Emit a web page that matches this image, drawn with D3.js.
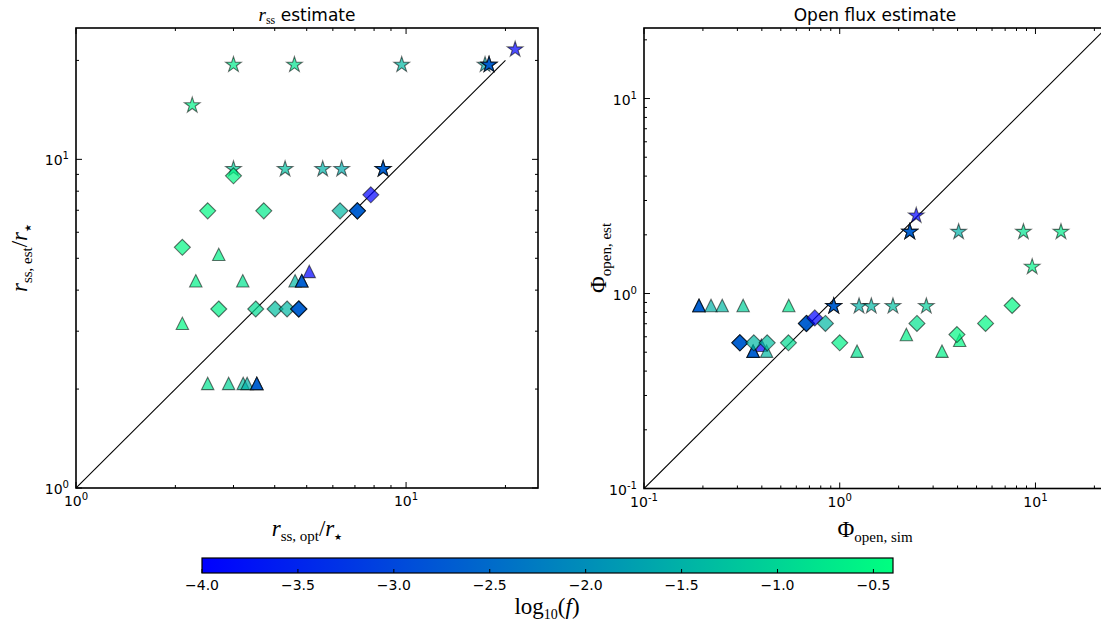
<!DOCTYPE html>
<html><head><meta charset="utf-8">
<script src="https://cdn.jsdelivr.net/npm/d3@7"></script>
<style>body{margin:0;background:#fff}svg{display:block}</style>
</head><body><svg id="c" width="1101" height="628"></svg>
<script>
// ---------- data: [x, y, log10(f)] ----------
const rssStars = [
  [3.0,19.4,-0.7],[4.59,19.4,-0.8],[9.70,19.4,-1.4],[17.35,19.4,-1.6],
  [17.84,19.4,-3.5],[17.84,19.4,-3.0],[17.84,19.4,-2.5],[21.4,21.6,-4.0],
  [2.25,14.6,-0.6],[3.0,9.34,-1.1],[4.30,9.34,-1.3],[5.59,9.34,-1.5],[6.38,9.34,-1.6],
  [8.52,9.34,-3.5],[8.52,9.34,-3.0],[8.52,9.34,-2.5]
];
const rssDiamonds = [
  [3.0,8.91,-0.5],[2.506,6.97,-0.5],[3.706,6.97,-0.7],[6.31,6.97,-1.4],
  [7.12,6.97,-3.5],[7.12,6.97,-3.0],[7.12,6.97,-2.5],[7.82,7.80,-4.0],
  [2.10,5.40,-0.5],[2.707,3.505,-0.6],[3.504,3.505,-0.9],[4.01,3.505,-1.3],[4.36,3.505,-1.4],
  [4.73,3.505,-3.5],[4.73,3.505,-3.0],[4.73,3.505,-2.5]
];
const rssTriangles = [
  [2.707,5.14,-0.6],[2.306,4.27,-0.6],[3.20,4.27,-0.8],[4.61,4.27,-1.4],
  [4.83,4.27,-3.5],[4.83,4.27,-3.0],[4.83,4.27,-2.5],[5.09,4.56,-4.0],
  [2.10,3.17,-0.5],[2.506,2.08,-0.8],[2.90,2.08,-1.0],[3.21,2.08,-1.3],[3.30,2.08,-1.5],
  [3.53,2.08,-3.5],[3.53,2.08,-3.0],[3.53,2.08,-2.5]
];
const fluxStars = [
  [2.46,2.51,-4.0],[2.28,2.07,-3.5],[2.28,2.07,-3.0],[2.28,2.07,-2.5],
  [4.05,2.07,-1.5],[8.68,2.07,-0.8],[13.5,2.07,-0.7],[9.62,1.37,-0.6],
  [0.932,0.861,-3.5],[0.932,0.861,-3.0],[0.932,0.861,-2.5],
  [1.255,0.861,-1.5],[1.45,0.861,-1.4],[1.87,0.861,-1.3],[2.77,0.861,-1.1]
];
const fluxDiamonds = [
  [0.676,0.702,-3.5],[0.676,0.702,-3.0],[0.676,0.702,-2.5],[0.746,0.75,-4.0],
  [0.845,0.702,-1.4],[2.48,0.702,-0.8],[5.56,0.702,-0.5],[7.60,0.868,-0.5],
  [0.309,0.559,-3.5],[0.309,0.559,-3.0],[0.309,0.559,-2.5],
  [0.364,0.559,-1.4],[0.426,0.559,-1.3],[0.547,0.559,-0.9],[1.0,0.559,-0.6],[3.97,0.616,-0.5]
];
const fluxTriangles = [
  [0.398,0.543,-4.0],
  [0.191,0.868,-3.5],[0.191,0.868,-3.0],[0.191,0.868,-2.5],
  [0.220,0.868,-1.5],[0.251,0.868,-1.4],[0.321,0.868,-1.1],[0.549,0.868,-0.8],
  [0.423,0.506,-1.4],[0.361,0.506,-3.5],[0.361,0.506,-3.0],[0.361,0.506,-2.5],
  [1.226,0.506,-0.8],[3.33,0.506,-0.6],[2.19,0.616,-0.6],[4.10,0.576,-0.5]
];
const cbarTicks = [-4.0,-3.5,-3.0,-2.5,-2.0,-1.5,-1.0,-0.5];
const fRange = [-4.0, Math.log10(0.4)];

// ---------- helpers ----------
const svg = d3.select("#c");
const winter = t => `rgb(0,${Math.round(255*t)},${Math.round(255*(1-0.5*t))})`;
const cScale = d3.scaleLinear().domain(fRange).range([0,1]).clamp(true);
const color = f => winter(cScale(f));

function starPath(R){const r=R*0.381966;const p=[];for(let i=0;i<10;i++){const a=-Math.PI/2+i*Math.PI/5;const rr=i%2?r:R;p.push([rr*Math.cos(a),rr*Math.sin(a)]);}return "M"+p.map(d=>d.join(",")).join("L")+"Z";}
const shapes = {
  star: starPath(8.2),
  diamond: "M0,-8L8,0L0,8L-8,0Z",
  tri: "M0,-6.2L6.2,6.2L-6.2,6.2Z"
};

function sup(t, base, exp, size){
  t.append("tspan").text(base);
  t.append("tspan").attr("dy",-6).attr("font-size",size*0.72).text(exp);
}

function panel(o){
  const x = d3.scaleLog().domain(o.xDom).range([o.left,o.right]);
  const y = d3.scaleLog().domain(o.yDom).range([o.bottom,o.top]);
  const g = svg.append("g");
  const cid = "clip"+o.id;
  svg.append("clipPath").attr("id",cid).append("rect")
    .attr("x",o.left).attr("y",o.top).attr("width",o.right-o.left).attr("height",o.bottom-o.top);
  const pg = g.append("g").attr("clip-path",`url(#${cid})`);
  pg.append("line").attr("x1",x(o.line[0])).attr("y1",y(o.line[0]))
    .attr("x2",x(o.line[1])).attr("y2",y(o.line[1])).attr("stroke","#000").attr("stroke-width",1.1);
  o.series.forEach(s=>{
    pg.append("g").selectAll("path").data(s.data).join("path")
      .attr("d",shapes[s.shape])
      .attr("transform",d=>`translate(${x(d[0])},${y(d[1])})`)
      .attr("fill",d=>color(d[2])).attr("fill-opacity",0.7)
      .attr("stroke","#000").attr("stroke-opacity",0.55).attr("stroke-width",1.1);
  });
  const ticks = (dom)=>{const maj=[],min=[];const a=Math.floor(Math.log10(dom[0])),b=Math.ceil(Math.log10(dom[1]));
    for(let e=a;e<=b;e++){for(let m=1;m<10;m++){const v=m*Math.pow(10,e);if(v<dom[0]*0.999||v>dom[1]*1.001)continue;(m===1?maj:min).push(v);}}return {maj,min};};
  const xt=ticks(o.xDom), yt=ticks(o.yDom);
  const tg=g.append("g").attr("stroke","#000").attr("stroke-width",1);
  const L=6, Lm=3;
  xt.maj.concat(xt.min).forEach(v=>{const len=xt.maj.includes(v)?L:Lm;const px=x(v);
    tg.append("line").attr("x1",px).attr("x2",px).attr("y1",o.bottom).attr("y2",o.bottom-len);
    tg.append("line").attr("x1",px).attr("x2",px).attr("y1",o.top).attr("y2",o.top+len);});
  yt.maj.concat(yt.min).forEach(v=>{const len=yt.maj.includes(v)?L:Lm;const py=y(v);
    tg.append("line").attr("y1",py).attr("y2",py).attr("x1",o.left).attr("x2",o.left+len);
    tg.append("line").attr("y1",py).attr("y2",py).attr("x1",o.right).attr("x2",o.right-len);});
  g.append("rect").attr("x",o.left).attr("y",o.top).attr("width",o.right-o.left).attr("height",o.bottom-o.top)
    .attr("fill","none").attr("stroke","#000").attr("stroke-width",1.6);
  const fs=14;
  xt.maj.forEach(v=>{const t=g.append("text").attr("x",x(v)).attr("y",o.bottom+18).attr("text-anchor","middle")
    .attr("font-family","DejaVu Sans").attr("font-size",fs);sup(t,"10",String(Math.round(Math.log10(v))),fs);});
  yt.maj.forEach(v=>{const t=g.append("text").attr("x",o.left-7).attr("y",y(v)+6).attr("text-anchor","end")
    .attr("font-family","DejaVu Sans").attr("font-size",fs);sup(t,"10",String(Math.round(Math.log10(v))),fs);});
  return {x,y,g};
}

const left = panel({id:"L",left:76,right:538,top:28,bottom:488,xDom:[1,25.1],yDom:[1,25.1],line:[1,20],
  series:[{shape:"star",data:rssStars},{shape:"diamond",data:rssDiamonds},{shape:"tri",data:rssTriangles}]});
const right = panel({id:"R",left:644,right:1107,top:28,bottom:488.5,xDom:[0.1,23.2],yDom:[0.1,23],line:[0.1,100],
  series:[{shape:"tri",data:fluxTriangles},{shape:"diamond",data:fluxDiamonds},{shape:"star",data:fluxStars}]});

// ---------- titles & labels ----------
const serif="Liberation Serif";
function mathLabel(x,y,parts,rot,size){
  const t=svg.append("text").attr("text-anchor","middle").attr("font-size",size)
    .attr("transform",`translate(${x},${y})`+(rot?` rotate(${rot})`:""));
  parts.forEach(p=>{const s=t.append("tspan").text(p.t).attr("font-family",p.ff||serif);
    if(p.i)s.attr("font-style","italic");
    if(p.fs)s.attr("font-size",p.fs);
    if(p.dy)s.attr("dy",p.dy);});
  return t;
}
mathLabel(307,21,[{t:"r",i:1,fs:19},{t:"ss",fs:12,dy:3},{t:" estimate",ff:"DejaVu Sans",fs:17,dy:-3}],0,17);
svg.append("text").attr("x",875).attr("y",21).attr("text-anchor","middle").attr("font-family","DejaVu Sans")
  .attr("font-size",17).text("Open flux estimate");
mathLabel(307,536,[{t:"r",i:1},{t:"ss, opt",fs:15,dy:5},{t:"/",dy:-5},{t:"r",i:1},{t:"★",fs:9,dy:4}],0,23);
mathLabel(875,537,[{t:"Φ"},{t:"open, sim",fs:15,dy:5}],0,23);
mathLabel(27,258,[{t:"r",i:1},{t:"ss, est",fs:15,dy:5},{t:"/",dy:-5},{t:"r",i:1},{t:"★",fs:9,dy:4}],-90,23);
mathLabel(606,258,[{t:"Φ"},{t:"open, est",fs:15,dy:5}],-90,23);

// ---------- colorbar ----------
const cb={left:202,right:893,top:558,bottom:573};
const cx=d3.scaleLinear().domain(fRange).range([cb.left,cb.right]);
const grad=svg.append("defs").append("linearGradient").attr("id","wg");
d3.range(0,1.0001,0.1).forEach(t=>grad.append("stop").attr("offset",t).attr("stop-color",winter(t)));
svg.append("rect").attr("x",cb.left).attr("y",cb.top).attr("width",cb.right-cb.left).attr("height",cb.bottom-cb.top)
  .attr("fill","url(#wg)").attr("stroke","#000").attr("stroke-width",1.2);
cbarTicks.forEach(v=>{
  svg.append("line").attr("x1",cx(v)).attr("x2",cx(v)).attr("y1",cb.bottom).attr("y2",cb.bottom-4).attr("stroke","#000");
  svg.append("text").attr("x",cx(v)).attr("y",cb.bottom+17).attr("text-anchor","middle")
    .attr("font-family","DejaVu Sans").attr("font-size",14).text(v.toFixed(1).replace("-","\u2212"));
});
mathLabel(547,614,[{t:"log"},{t:"10",fs:14,dy:5},{t:"(",dy:-5},{t:"f",i:1},{t:")"}],0,23);
</script></body></html>
